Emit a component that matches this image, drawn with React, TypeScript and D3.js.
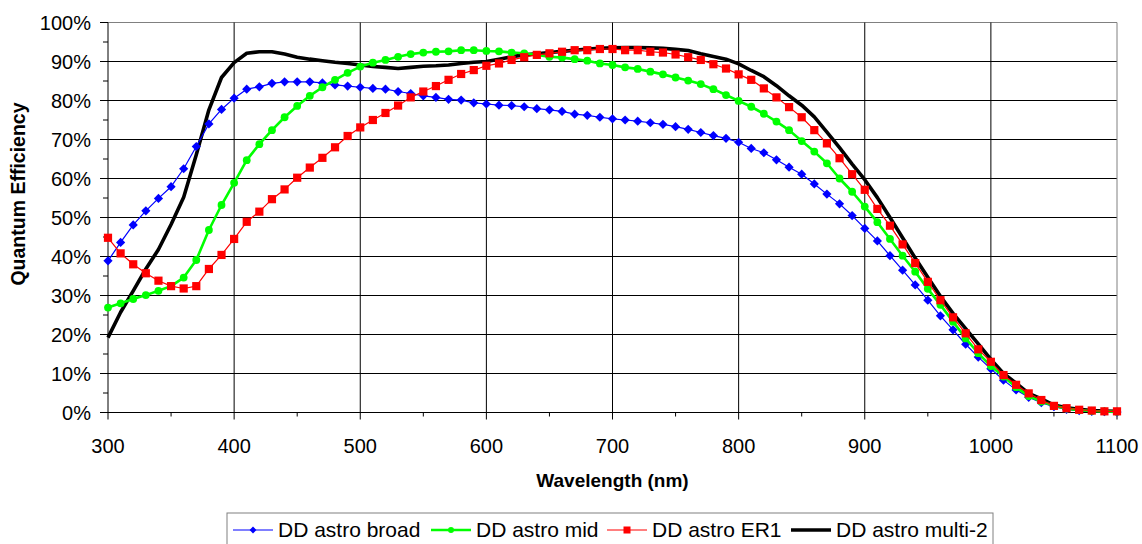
import React from "react";
import * as d3 from "d3";

const wavelengths: number[] = d3.range(300, 1101, 10);

const broad: number[] = [
  38.9, 43.6, 48.1, 51.7, 54.9, 57.9, 62.5, 68.2, 74.0, 77.7,
  80.6, 82.9, 83.5, 84.4, 84.8, 84.8, 84.8, 84.5, 84.0, 83.7,
  83.4, 83.1, 82.9, 82.3, 81.8, 81.2, 80.8, 80.3, 80.1, 79.4,
  79.1, 78.8, 78.7, 78.4, 77.9, 77.6, 77.2, 76.5, 76.2, 75.7,
  75.3, 75.0, 74.7, 74.3, 73.9, 73.3, 72.6, 71.8, 71.0, 70.3,
  69.3, 67.7, 66.6, 64.8, 62.9, 61.1, 58.6, 56.0, 53.5, 50.5,
  47.2, 44.0, 40.2, 36.5, 32.7, 28.8, 24.8, 21.2, 17.5, 14.2,
  11.2, 8.3, 5.8, 3.9, 2.5, 1.5, 0.8, 0.5, 0.3, 0.2, 0.1,
];

const mid: number[] = [
  26.9, 28.0, 29.1, 30.1, 31.2, 32.4, 34.6, 39.1, 46.8, 53.2,
  58.9, 64.7, 68.8, 72.4, 75.7, 78.6, 81.2, 83.4, 85.3, 87.1,
  88.7, 89.7, 90.4, 91.2, 91.9, 92.3, 92.5, 92.6, 92.9, 92.9,
  92.7, 92.6, 92.3, 92.1, 91.7, 91.2, 91.0, 90.6, 90.2, 89.5,
  89.1, 88.5, 88.1, 87.4, 86.7, 85.9, 85.1, 84.2, 82.9, 81.4,
  79.9, 78.4, 76.6, 74.6, 72.4, 69.6, 66.9, 63.9, 60.0, 56.6,
  52.8, 48.8, 44.5, 40.2, 36.1, 31.7, 27.6, 23.3, 19.0, 15.2,
  11.9, 9.2, 6.5, 4.2, 2.8, 1.7, 1.0, 0.6, 0.4, 0.3, 0.2,
];

const er1: number[] = [
  44.8, 40.8, 38.0, 35.7, 33.8, 32.4, 31.8, 32.4, 36.8, 40.4,
  44.5, 48.9, 51.5, 54.7, 57.2, 60.2, 62.8, 65.3, 68.0, 70.9,
  73.1, 75.0, 76.8, 78.7, 80.8, 82.3, 83.7, 85.3, 86.8, 87.8,
  88.9, 89.5, 90.4, 91.1, 91.7, 92.1, 92.5, 92.9, 92.9, 93.2,
  93.2, 92.9, 92.9, 92.5, 92.3, 91.8, 91.1, 90.4, 89.3, 88.2,
  86.7, 85.3, 83.1, 80.8, 78.3, 75.7, 72.4, 69.0, 65.2, 61.1,
  57.1, 52.2, 47.9, 43.1, 38.3, 33.5, 28.8, 24.4, 20.3, 16.2,
  13.0, 9.6, 7.1, 4.9, 3.2, 1.7, 1.1, 0.7, 0.5, 0.3, 0.3,
];

const multi2: number[] = [
  19.2, 25.7, 31.2, 36.8, 41.8, 48.2, 55.2, 66.1, 77.6, 85.9,
  89.7, 92.1, 92.5, 92.5, 91.9, 91.1, 90.6, 90.2, 89.8, 89.5,
  89.1, 88.7, 88.5, 88.2, 88.5, 88.8, 88.9, 89.1, 89.5, 89.8,
  90.0, 90.6, 91.2, 91.7, 92.0, 92.3, 92.6, 92.9, 93.2, 93.4,
  93.5, 93.6, 93.6, 93.5, 93.4, 93.1, 92.8, 92.0, 91.3, 90.6,
  89.4, 87.7, 86.1, 83.8, 81.2, 78.8, 75.8, 71.9, 67.9, 63.7,
  59.7, 55.1, 50.0, 44.8, 39.6, 34.7, 29.8, 25.4, 21.5, 17.6,
  13.6, 10.0, 7.5, 4.9, 3.5, 1.9, 1.2, 0.8, 0.5, 0.4, 0.3,
];

const seriesNames: string[] = ["DD astro broad", "DD astro mid", "DD astro ER1", "DD astro multi-2"];
const xTicks: number[] = [300, 400, 500, 600, 700, 800, 900, 1000, 1100];
const yTicks: number[] = [0, 10, 20, 30, 40, 50, 60, 70, 80, 90, 100];

const W = 1142;
const H = 544;
const L = 108, R = 1117, T = 22.5, B = 412.5;
const FONT = "'Liberation Sans', Arial, sans-serif";

type Marker = "diamond" | "circle" | "square" | "none";
const styles: { color: string; width: number; marker: Marker; size: number; legendSize: number }[] = [
  { color: "#0000FF", width: 1.2, marker: "diamond", size: 4.6, legendSize: 3.4 },
  { color: "#00FF00", width: 2.6, marker: "circle", size: 3.9, legendSize: 3.0 },
  { color: "#FF0000", width: 1.2, marker: "square", size: 4.1, legendSize: 3.5 },
  { color: "#000000", width: 3.6, marker: "none", size: 0, legendSize: 0 },
];
const legendX: number[] = [233, 431, 607, 791];

function MarkerShape({ type, x, y, s, color }: { type: Marker; x: number; y: number; s: number; color: string }) {
  if (type === "diamond") {
    return <path d={`M${x},${y - s}L${x + s},${y}L${x},${y + s}L${x - s},${y}Z`} fill={color} />;
  }
  if (type === "circle") return <circle cx={x} cy={y} r={s} fill={color} />;
  if (type === "square") return <rect x={x - s} y={y - s} width={2 * s} height={2 * s} fill={color} />;
  return null;
}

export default function App() {
  const x = d3.scaleLinear().domain([300, 1100]).range([L, R]);
  const y = d3.scaleLinear().domain([0, 100]).range([B, T]);
  const data = [broad, mid, er1, multi2];
  const line = d3
    .line<number>()
    .x((_, i) => x(wavelengths[i]))
    .y((d) => y(d));

  const drawOrder = [3, 0, 1, 2];
  const minorX = d3.range(350, 1100, 100);
  const minorY = d3.range(5, 100, 10);

  return (
    <svg
      width={W}
      height={H}
      style={{ position: "fixed", left: 0, top: 0, background: "#fff" }}
      fontFamily={FONT}
    >
      <rect x={0} y={0} width={W} height={H} fill="#fff" />
      {/* gridlines */}
      {yTicks.slice(1).map((t) => (
        <line key={"gy" + t} x1={L} x2={R} y1={y(t)} y2={y(t)} stroke={t === 100 ? "#808080" : "#000"} strokeWidth={1} />
      ))}
      {xTicks.slice(1).map((t) => (
        <line key={"gx" + t} x1={x(t)} x2={x(t)} y1={T} y2={B} stroke={t === 1100 ? "#808080" : "#000"} strokeWidth={1} />
      ))}
      {/* axes */}
      <line x1={L} x2={L} y1={T} y2={B} stroke="#000" />
      <line x1={L} x2={R} y1={B} y2={B} stroke="#000" />
      {yTicks.map((t) => (
        <line key={"ty" + t} x1={L - 8} x2={L} y1={y(t)} y2={y(t)} stroke="#000" />
      ))}
      {minorY.map((t) => (
        <line key={"my" + t} x1={L - 5} x2={L} y1={y(t)} y2={y(t)} stroke="#000" />
      ))}
      {xTicks.map((t) => (
        <line key={"tx" + t} x1={x(t)} x2={x(t)} y1={B} y2={B + 7} stroke="#000" />
      ))}
      {minorX.map((t) => (
        <line key={"mx" + t} x1={x(t)} x2={x(t)} y1={B} y2={B + 4} stroke="#000" />
      ))}
      {yTicks.map((t) => (
        <text key={"ly" + t} x={91} y={y(t)} dy="0.35em" textAnchor="end" fontSize={20} fill="#000">
          {t + "%"}
        </text>
      ))}
      {xTicks.map((t) => (
        <text key={"lx" + t} x={x(t)} y={453} textAnchor="middle" fontSize={20} fill="#000">
          {t}
        </text>
      ))}
      <text x={(L + R) / 2} y={487} textAnchor="middle" fontSize={19} fontWeight="bold" fill="#000">
        Wavelength (nm)
      </text>
      <text
        transform={`translate(25,194) rotate(-90)`}
        textAnchor="middle"
        fontSize={19.5}
        fontWeight="bold"
        fill="#000"
      >
        Quantum Efficiency
      </text>
      {/* series */}
      {drawOrder.map((si) => {
        const st = styles[si];
        return (
          <g key={"s" + si}>
            <path d={line(data[si]) || ""} fill="none" stroke={st.color} strokeWidth={st.width} strokeLinejoin="round" />
            {st.marker !== "none" &&
              data[si].map((v, i) => (
                <MarkerShape key={i} type={st.marker} x={x(wavelengths[i])} y={y(v)} s={st.size} color={st.color} />
              ))}
          </g>
        );
      })}
      {/* legend */}
      <rect x={227} y={513} width={766} height={60} fill="#fff" stroke="#808080" strokeWidth={1} />
      {seriesNames.map((name, i) => {
        const st = styles[i];
        const lx = legendX[i];
        return (
          <g key={"lg" + i}>
            <line x1={lx} x2={lx + 40} y1={530} y2={530} stroke={st.color} strokeWidth={st.width} />
            <MarkerShape type={st.marker} x={lx + 20} y={530} s={st.legendSize} color={st.color} />
            <text x={lx + 45} y={536.5} fontSize={21} fill="#000">
              {name}
            </text>
          </g>
        );
      })}
    </svg>
  );
}
